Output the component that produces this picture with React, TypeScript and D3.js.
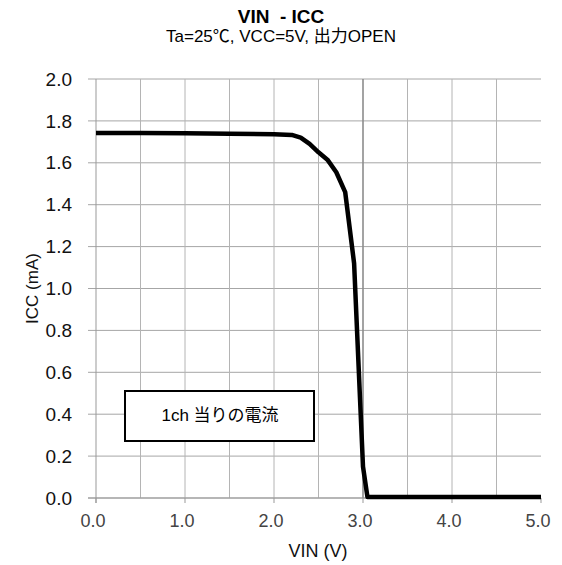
import { useEffect, useRef } from "react";
import * as d3 from "d3";

// VIN (V) vs ICC (mA)
const vin = [0, 0.5, 1.0, 1.5, 2.0, 2.2, 2.3, 2.4, 2.5, 2.6, 2.7, 2.8, 2.9, 3.0, 3.05, 3.5, 4.0, 4.5, 5.0];
const icc = [1.742, 1.742, 1.741, 1.739, 1.736, 1.733, 1.72, 1.69, 1.65, 1.615, 1.555, 1.46, 1.12, 0.15, 0.005, 0.005, 0.005, 0.005, 0.005];

const xTicks = [0, 1, 2, 3, 4, 5];
const xGrid = [0.5, 1, 1.5, 2, 2.5, 3, 3.5, 4, 4.5];
const yTicks = [0, 0.2, 0.4, 0.6, 0.8, 1.0, 1.2, 1.4, 1.6, 1.8, 2.0];

const title = "VIN  - ICC";
const subtitle = "Ta=25℃, VCC=5V, 出力OPEN";
const xLabel = "VIN (V)";
const yLabel = "ICC (mA)";
const note = "1ch 当りの電流";

const FONT = "'Liberation Sans', Arial, 'Noto Sans CJK JP', sans-serif";

export default function App() {
  const ref = useRef<SVGSVGElement>(null);

  useEffect(() => {
    const svg = d3.select(ref.current);
    svg.selectAll("*").remove();

    const x = d3.scaleLinear().domain([0, 5]).range([96, 541]);
    const y = d3.scaleLinear().domain([0, 2]).range([498, 79]);

    // grid
    const grid = svg.append("g");
    grid.selectAll("line.h")
      .data(yTicks)
      .join("line")
      .attr("x1", x(0) - 8)
      .attr("x2", x(5))
      .attr("y1", d => y(d))
      .attr("y2", d => y(d))
      .attr("stroke", "#a6a6a6")
      .attr("stroke-width", 1);
    grid.selectAll("line.v")
      .data(xGrid)
      .join("line")
      .attr("x1", d => x(d))
      .attr("x2", d => x(d))
      .attr("y1", y(2))
      .attr("y2", y(0))
      .attr("stroke", d => (d === 3 ? "#8c8c8c" : "#b4b4b4"))
      .attr("stroke-width", d => (d === 3 ? 1.6 : 1));

    // axes lines
    svg.append("line")
      .attr("x1", x(0)).attr("x2", x(0))
      .attr("y1", y(2)).attr("y2", y(0) + 5)
      .attr("stroke", "#999");
    svg.append("line")
      .attr("x1", x(0) - 8).attr("x2", x(5))
      .attr("y1", y(0)).attr("y2", y(0))
      .attr("stroke", "#999");
    svg.selectAll("line.xt")
      .data(xTicks)
      .join("line")
      .attr("x1", d => x(d))
      .attr("x2", d => x(d))
      .attr("y1", y(0))
      .attr("y2", y(0) + 5)
      .attr("stroke", "#999");

    // tick labels
    svg.append("g")
      .selectAll("text")
      .data(yTicks)
      .join("text")
      .attr("x", 72)
      .attr("y", d => y(d))
      .attr("dy", "0.35em")
      .attr("text-anchor", "end")
      .attr("font-family", FONT)
      .attr("font-size", 19)
      .attr("fill", "#111")
      .text(d => d.toFixed(1));
    svg.append("g")
      .selectAll("text")
      .data(xTicks)
      .join("text")
      .attr("x", d => x(d) - 3)
      .attr("y", 527)
      .attr("text-anchor", "middle")
      .attr("font-family", FONT)
      .attr("font-size", 18)
      .attr("fill", "#444")
      .text(d => d.toFixed(1));

    // curve
    const line = d3.line<number>()
      .x((d, i) => x(vin[i]))
      .y(d => y(d));
    svg.append("path")
      .datum(icc)
      .attr("d", line)
      .attr("fill", "none")
      .attr("stroke", "#000")
      .attr("stroke-width", 4.5)
      .attr("stroke-linejoin", "round");

    // note box
    svg.append("rect")
      .attr("x", 125).attr("y", 391)
      .attr("width", 189).attr("height", 50)
      .attr("fill", "#fff")
      .attr("stroke", "#000")
      .attr("stroke-width", 2);
    svg.append("text")
      .attr("x", 220).attr("y", 415)
      .attr("dy", "0.35em")
      .attr("text-anchor", "middle")
      .attr("font-family", FONT)
      .attr("font-size", 17)
      .attr("fill", "#000")
      .text(note);

    // titles
    svg.append("text")
      .attr("x", 281).attr("y", 23)
      .attr("text-anchor", "middle")
      .attr("font-family", FONT)
      .attr("font-size", 19)
      .attr("font-weight", "bold")
      .attr("xml:space", "preserve")
      .text(title);
    svg.append("text")
      .attr("x", 281).attr("y", 42)
      .attr("text-anchor", "middle")
      .attr("font-family", FONT)
      .attr("font-size", 17)
      .text(subtitle);
    svg.append("text")
      .attr("x", 318).attr("y", 557)
      .attr("text-anchor", "middle")
      .attr("font-family", FONT)
      .attr("font-size", 18)
      .attr("fill", "#111")
      .text(xLabel);
    svg.append("text")
      .attr("transform", `translate(38, ${(y(0) + y(2)) / 2}) rotate(-90)`)
      .attr("text-anchor", "middle")
      .attr("font-family", FONT)
      .attr("font-size", 17)
      .attr("fill", "#111")
      .text(yLabel);
  }, []);

  return (
    <div style={{ position: "absolute", left: 0, top: 0 }}>
      <svg ref={ref} width={562} height={565} style={{ display: "block", background: "#fff" }} />
    </div>
  );
}
